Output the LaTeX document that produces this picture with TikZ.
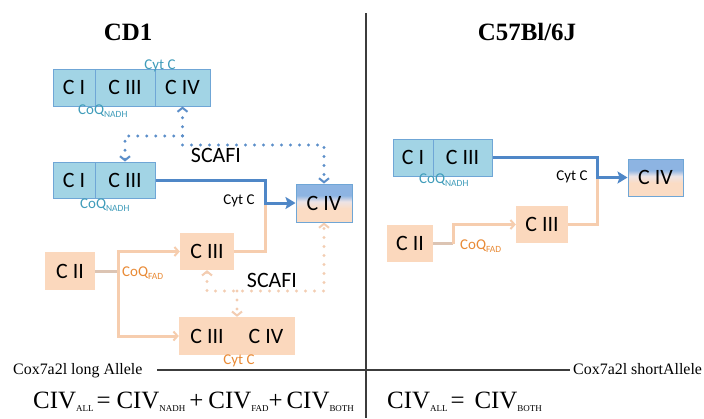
\documentclass[tikz,border=0pt]{standalone}
\usepackage{fontspec}
\setmainfont{Liberation Serif}
\newfontfamily\calfont{Carlito}
\usetikzlibrary{arrows.meta}
\definecolor{boxblue}{HTML}{A2D4E5}
\definecolor{bordblue}{HTML}{6FA6D6}
\definecolor{peach}{HTML}{FBD8BD}
\definecolor{tealtxt}{HTML}{3F9CBA}
\definecolor{orngtxt}{HTML}{E98A35}
\definecolor{arblue}{HTML}{4F87C7}
\definecolor{peachln}{HTML}{F6CDAE}
\definecolor{stubln}{HTML}{DCC4B3}
\definecolor{dotblue}{HTML}{5B8EC9}
\definecolor{dotpeach}{HTML}{F3CDB2}
\definecolor{gtop}{HTML}{8DB4E2}
\definecolor{gmid}{HTML}{EDE4E6}
\definecolor{gbot}{HTML}{FBDCC4}
\definecolor{rulegray}{HTML}{3C3C3C}
\pgfdeclareverticalshading{civshade}{100bp}{color(0bp)=(gbot); color(25bp)=(gbot); color(43bp)=(gbot); color(52bp)=(gmid); color(60bp)=(gtop); color(100bp)=(gtop)}
\newcommand\subt[1]{\raisebox{-3bp}{\fontsize{9.5}{10}\selectfont #1}}
\newcommand\esub[1]{\raisebox{-3.5bp}{\fontsize{9}{10}\selectfont #1}}
\begin{document}
\begin{tikzpicture}[x=1bp,y=-1bp,
  boxtxt/.style={font=\calfont\fontsize{22}{24}\selectfont, text=black},
  bbox/.style={boxtxt, draw=bordblue, line width=1bp, fill=boxblue, inner sep=0pt},
  pbox/.style={boxtxt, fill=peach, inner sep=0pt},
  gbox/.style={boxtxt, draw=bordblue, line width=1bp, shading=civshade, inner sep=0pt},
  lab/.style={font=\calfont\fontsize{15}{17}\selectfont, inner sep=0pt},
  bline/.style={draw=arblue, line width=3bp, -{Stealth[length=10bp,width=12bp,inset=2bp]}},
  pline/.style={draw=peachln, line width=3bp},
  chev/.style={-{Straight Barb[length=4bp,width=9bp,line width=2bp]}},
  bdot/.style={draw=dotblue, line width=3.2bp, dash pattern=on 0bp off 9bp, line cap=round,
     >={Straight Barb[length=4bp,width=10bp,line width=2bp]}},
  pdot/.style={draw=dotpeach, line width=3.2bp, dash pattern=on 0bp off 9bp, line cap=round,
     >={Straight Barb[length=4bp,width=10bp,line width=2bp]}},
  title/.style={font=\bfseries\fontsize{25}{28}\selectfont, inner sep=0pt},
  allele/.style={font=\fontsize{16}{18}\selectfont, inner sep=0pt, anchor=base west},
  eq/.style={font=\fontsize{25}{28}\selectfont, inner sep=0pt, anchor=base west}
]
\useasboundingbox (0,0) rectangle (704,418);
\fill[white] (0,0) rectangle (704,418);

% dividing rules
\coordinate (vtop) at (366,13);
\coordinate (vbot) at (366,418);
\coordinate (hl) at (157,370);
\coordinate (hr) at (570,370);
\draw[rulegray, line width=1.8bp] (vtop) -- (vbot);
\draw[rulegray, line width=1.6bp] (hl) -- (hr);

% titles
\node[title] (tcd) at (128,32) {CD1};
\node[title] (tc57) at (527,32) {C57Bl/6J};

% ===== CD1 boxes =====
\node[bbox, minimum width=42bp, minimum height=37bp] (tI) at (74,87.5) {C I};
\node[bbox, minimum width=60bp, minimum height=37bp] (tIII) at (125,87.5) {C III};
\node[bbox, minimum width=55bp, minimum height=37bp] (tIV) at (182.5,87.5) {C IV};

\node[bbox, minimum width=42bp, minimum height=36bp] (mI) at (74,180) {C I};
\node[bbox, minimum width=60bp, minimum height=36bp] (mIII) at (125,180) {C III};
\node[gbox, minimum width=56bp, minimum height=38bp] (mIV) at (324,203) {C IV};

\node[pbox, minimum width=54bp, minimum height=37bp] (lIII) at (207,251.5) {C III};
\node[pbox, minimum width=50bp, minimum height=38bp] (lII) at (70,271) {C II};
\node[pbox, minimum width=116bp, minimum height=38bp] (lB) at (237,336) {};
\node[boxtxt, inner sep=0pt] (lBa) at (207,336) {C III};
\node[boxtxt, inner sep=0pt] (lBb) at (266,336) {C IV};

% CD1 connectors
\coordinate (j1) at (265,203);
\draw[pline] (lIII.east) -| (j1);
\draw[bline] (mIII.east) -| (j1) -- (mIV.west);
\coordinate (sp) at (118,271);
\draw[pline, draw=stubln] (lII.east) -- (sp);
\draw[pline, chev] (sp) |- (lIII.west);
\draw[pline, chev] (sp) |- (lB.west);

\coordinate (d1) at (182.5,136);
\coordinate (d2) at (182.5,145);
\draw[bdot,<->] (mIII.north) |- (d1) -- (tIV.south);
\draw[bdot,->] (d1) -- (d2) -| (mIV.north);

\coordinate (p1) at (237,291);
\draw[pdot,<->] (lIII.south) |- (p1) -| (mIV.south);
\draw[pdot,->] (p1) -- (lB.north);

% CD1 labels
\node[lab, text=tealtxt, anchor=base] (cytT) at (160,69) {Cyt C};
\node[lab, text=tealtxt, anchor=base west] (coqT) at (78,114) {CoQ\subt{NADH}};
\node[font=\calfont\fontsize{22}{24}\selectfont, inner sep=0pt] (scafiT) at (216,155) {SCAFI};
\node[lab, text=black] (cytM) at (239,201) {Cyt C};
\node[lab, text=tealtxt, anchor=base west] (coqM) at (80,208) {CoQ\subt{NADH}};
\node[lab, text=orngtxt, anchor=base west] (coqF) at (122,276) {CoQ\subt{FAD}};
\node[font=\calfont\fontsize{22}{24}\selectfont, inner sep=0pt] (scafiL) at (272,280) {SCAFI};
\node[lab, text=orngtxt] (cytL) at (239,361) {Cyt C};

% ===== C57Bl/6J =====
\node[bbox, minimum width=40bp, minimum height=37bp] (rI) at (413,157.5) {C I};
\node[bbox, minimum width=59bp, minimum height=37bp] (rIII) at (462.5,157.5) {C III};
\node[gbox, minimum width=55bp, minimum height=37bp] (rIV) at (655.5,177.5) {C IV};
\node[pbox, minimum width=52bp, minimum height=37bp] (rIIIb) at (542,224.5) {C III};
\node[pbox, minimum width=46bp, minimum height=37bp] (rII) at (410,243.5) {C II};

\coordinate (rj) at (597,177.5);
\draw[pline] (rIIIb.east) -| (rj);
\draw[bline] (rIII.east) -| (rj) -- (rIV.west);
\coordinate (rsp) at (453,243.5);
\draw[pline, draw=stubln] (rII.east) -- (rsp);
\draw[pline, chev] (rsp) |- (rIIIb.west);

\node[lab, text=tealtxt, anchor=base west] (coqR) at (419,183) {CoQ\subt{NADH}};
\node[lab, text=black] (cytR) at (572,177) {Cyt C};
\node[lab, text=orngtxt, anchor=base west] (coqFR) at (460,249) {CoQ\subt{FAD}};

% allele labels
\node[allele] (al1) at (13,374) {Cox7a2l long Allele};
\node[allele] (al2) at (573,374) {Cox7a2l shortAllele};

% equations
\node[eq] (eq1) at (33,408) {CIV\esub{ALL}\hspace{3bp}=\hspace{6bp}CIV\esub{NADH}\hspace{4bp}+\hspace{5bp}CIV\esub{FAD}+\hspace{4bp}CIV\esub{BOTH}};
\node[eq] (eq2) at (387,408) {CIV\esub{ALL}\hspace{3bp}=\hspace{10bp}CIV\esub{BOTH}};
\end{tikzpicture}
\end{document}
